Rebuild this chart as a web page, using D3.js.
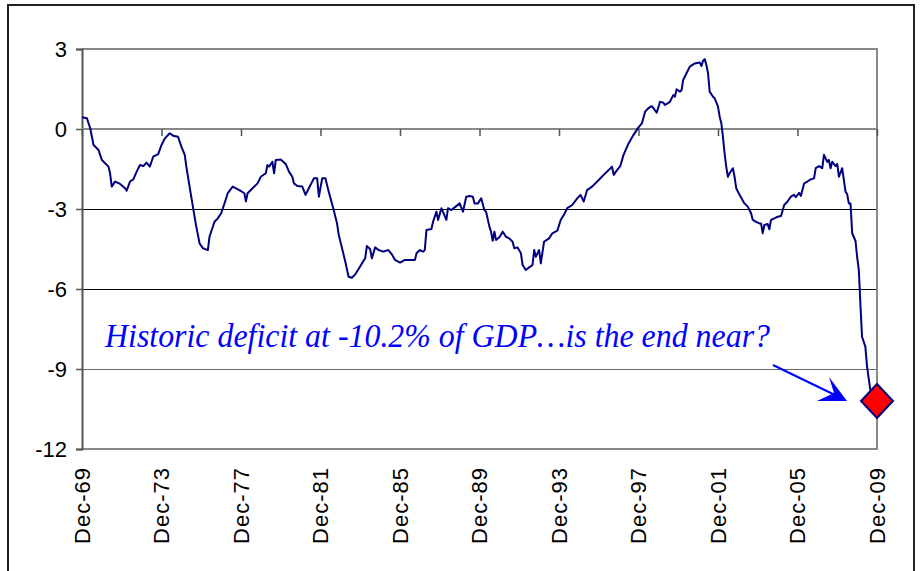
<!DOCTYPE html>
<html><head><meta charset="utf-8">
<script src="https://cdn.jsdelivr.net/npm/d3@7"></script>
<style>html,body{margin:0;padding:0;background:#fff;} svg{display:block;}</style>
</head><body>
<svg id="chart" width="921" height="571"></svg>
<script>
// ---- data (rolling deficit, % of GDP) ----
const months = [
"1969-12","1970-03","1970-05","1970-07","1970-10","1970-12","1971-04","1971-05","1971-06","1971-08","1971-11",
"1972-02","1972-03","1972-05","1972-07","1972-09","1972-11","1973-01","1973-03","1973-05","1973-07","1973-10","1973-12",
"1974-02","1974-05","1974-07","1974-10","1974-12","1975-02","1975-03","1975-05","1975-07","1975-09","1975-11",
"1976-01","1976-04","1976-05","1976-08","1976-10","1976-12","1977-02","1977-04","1977-07","1977-11",
"1978-02","1978-03","1978-04","1978-07","1978-10","1978-12","1979-03","1979-04","1979-05","1979-07","1979-08","1979-09","1979-12",
"1980-03","1980-05","1980-07","1980-08","1980-10","1981-01","1981-03","1981-05","1981-08","1981-10","1981-11",
"1982-01","1982-03","1982-05","1982-08","1982-10","1982-11","1983-01","1983-03","1983-05","1983-07","1983-09","1983-11",
"1984-01","1984-03","1984-04","1984-06","1984-07","1984-09","1984-11","1985-02","1985-05","1985-07","1985-09","1985-12",
"1986-03","1986-06","1986-09","1986-10","1986-12","1987-02","1987-03","1987-04","1987-07","1987-08","1987-10","1987-11",
"1988-01","1988-04","1988-05","1988-07","1988-09","1988-12","1989-02","1989-04","1989-06","1989-08","1989-09","1989-11",
"1990-01","1990-03","1990-04","1990-06","1990-07","1990-08","1990-09","1990-10","1990-12",
"1991-02","1991-04","1991-06","1991-08","1991-09","1991-11","1992-01","1992-02","1992-04","1992-06","1992-08","1992-09","1992-10","1992-12",
"1993-01","1993-03","1993-06","1993-08","1993-11","1994-01","1994-03","1994-05","1994-08","1994-11",
"1995-01","1995-03","1995-05","1995-08","1995-12","1996-03","1996-06","1996-08","1996-09","1996-11",
"1997-01","1997-03","1997-06","1997-09","1997-12","1998-02","1998-04","1998-06","1998-08","1998-09","1998-11",
"1999-01","1999-03","1999-04","1999-07","1999-09","1999-10","1999-11","2000-01","2000-02","2000-03","2000-05","2000-07","2000-10",
"2001-01","2001-02","2001-03","2001-04","2001-05","2001-06","2001-07","2001-09","2001-10","2001-12",
"2002-01","2002-02","2002-03","2002-04","2002-05","2002-06","2002-07","2002-09","2002-10","2002-11",
"2003-01","2003-04","2003-06","2003-08","2003-09","2003-11","2004-01","2004-02","2004-03","2004-04","2004-06","2004-07","2004-08","2004-10","2004-12",
"2005-02","2005-04","2005-06","2005-08","2005-10","2005-11","2006-01","2006-02","2006-04","2006-06","2006-08","2006-10","2006-11",
"2007-01","2007-03","2007-04","2007-06","2007-07","2007-08","2007-09","2007-11","2007-12",
"2008-01","2008-03","2008-04","2008-05","2008-06","2008-07","2008-08","2008-09","2008-11","2008-12",
"2009-01","2009-02","2009-03","2009-05","2009-06","2009-08","2009-12"
];
const deficit = [
0.44,0.40,0.03,-0.60,-0.79,-1.16,-1.41,-1.66,-2.16,-1.97,-2.06,
-2.22,-2.31,-1.97,-1.89,-1.60,-1.35,-1.39,-1.26,-1.41,-1.04,-0.94,-0.60,
-0.35,-0.16,-0.25,-0.29,-0.66,-0.97,-1.39,-2.16,-2.91,-3.66,-4.29,
-4.47,-4.54,-4.04,-3.48,-3.35,-3.16,-2.79,-2.41,-2.16,-2.29,
-2.41,-2.72,-2.41,-2.22,-2.04,-1.79,-1.66,-1.35,-1.41,-1.23,-1.66,-1.16,-1.14,
-1.31,-1.60,-1.79,-2.04,-2.14,-2.16,-2.47,-2.22,-1.85,-1.85,-2.54,
-1.85,-1.85,-2.35,-3.04,-3.54,-3.97,-4.47,-4.97,-5.54,-5.58,-5.45,-5.25,
-5.04,-4.85,-4.39,-4.51,-4.85,-4.44,-4.54,-4.60,-4.54,-4.69,-4.91,-5.01,
-4.91,-4.91,-4.91,-4.66,-4.54,-4.60,-4.54,-3.79,-3.75,-3.48,-3.10,-3.41,
-2.97,-3.41,-2.97,-3.04,-2.94,-2.79,-3.10,-2.54,-2.51,-2.54,-2.79,-2.79,
-2.60,-3.04,-3.10,-3.66,-3.85,-4.19,-3.85,-4.16,-4.06,
-3.85,-4.04,-4.10,-4.23,-4.47,-4.44,-4.66,-5.10,-5.29,-5.19,-5.10,-4.54,-4.79,-4.54,
-5.04,-4.23,-4.10,-3.91,-3.81,-3.41,-3.22,-2.97,-2.85,-2.60,
-2.47,-2.72,-2.29,-2.16,-1.91,-1.72,-1.54,-1.41,-1.72,-1.54,
-1.39,-0.97,-0.54,-0.22,0.06,0.21,0.65,0.78,0.86,0.78,0.61,
1.02,0.99,0.90,1.02,1.27,1.21,1.49,1.40,1.46,1.84,2.09,2.34,2.46,
2.49,2.36,2.56,2.62,2.40,2.09,1.40,1.21,1.15,0.84,
0.46,0.21,-0.29,-0.91,-1.41,-1.79,-1.66,-1.47,-1.79,-2.22,
-2.47,-2.79,-2.91,-3.16,-3.41,-3.48,-3.54,-3.54,-3.91,-3.60,-3.56,-3.76,-3.41,-3.35,-3.29,
-3.26,-2.85,-2.72,-2.54,-2.47,-2.56,-2.39,-2.51,-2.04,-1.97,-1.89,-1.85,-1.47,
-1.39,-1.47,-0.97,-1.23,-1.16,-1.47,-1.23,-1.39,-1.31,
-1.79,-1.47,-1.91,-2.35,-2.44,-2.79,-2.79,-3.91,-4.20,-4.80,
-5.29,-6.66,-7.79,-8.16,-8.91,-9.79,-10.20
];
const xTickLabels = ["Dec-69","Dec-73","Dec-77","Dec-81","Dec-85","Dec-89","Dec-93","Dec-97","Dec-01","Dec-05","Dec-09"];
const yTickValues = [3,0,-3,-6,-9,-12];
const latestMonth = "2009-12";
const latestValue = -10.2;
const annotationText = "Historic deficit at -10.2% of GDP\u2026is the end near?";

// ---- layout ----
const svg = d3.select("#chart");
const m = {left:82, right:877, top:49, bottom:449};
const parseMonth = d3.timeParse("%Y-%m");
const parseTick = d3.timeParse("%b-%y");
const tickDates = xTickLabels.map(parseTick);

const x = d3.scaleTime().domain([tickDates[0], tickDates[tickDates.length-1]]).range([m.left, m.right]);
const y = d3.scaleLinear().domain([-12, 3]).range([m.bottom, m.top]);

// outer frame
svg.append("rect").attr("x",8).attr("y",5).attr("width",906).attr("height",580)
  .attr("fill","#fff").attr("stroke","#222").attr("stroke-width",2);

// gridlines (-3, -6, -9)
const gridCol = {"-3":"#000","-6":"#000","-9":"#666"};
svg.append("g").selectAll("line").data(yTickValues.filter(v => v < 0 && v > -12)).join("line")
  .attr("x1", m.left).attr("x2", m.right)
  .attr("y1", d => Math.round(y(d)) + 0.5).attr("y2", d => Math.round(y(d)) + 0.5)
  .attr("stroke", d => gridCol[d]).attr("stroke-width", 1.2);

// plot border (top/right/bottom)
svg.append("path")
  .attr("d", `M${m.left},${y(3)}H${m.right}V${y(-12)}H${m.left}`)
  .attr("fill","none").attr("stroke","#888").attr("stroke-width",2);

// y axis
const yAxis = d3.axisLeft(y).tickValues(yTickValues).tickSize(6).tickPadding(9)
  .tickFormat(d => String(d));
const gy = svg.append("g").attr("transform",`translate(${m.left},0)`).call(yAxis);
gy.select(".domain").attr("stroke","#555").attr("stroke-width",2);
gy.selectAll(".tick line").attr("stroke","#555").attr("stroke-width",1.5);
gy.selectAll(".tick text").attr("font-family","'Liberation Sans', Arial, sans-serif")
  .attr("font-size",22).attr("fill","#000").attr("dy","0.35em");

// x axis crossing at 0
const xAxis = d3.axisBottom(x).tickValues(tickDates).tickSize(7).tickFormat("");
const gx = svg.append("g").attr("transform",`translate(0,${y(0)})`).call(xAxis);
gx.select(".domain").attr("stroke","#888").attr("stroke-width",2).attr("d",`M${m.left},0H${m.right}`);
gx.selectAll(".tick line").attr("stroke","#555").attr("stroke-width",1.5);

// x labels at bottom, rotated
svg.append("g").selectAll("text").data(xTickLabels).join("text")
  .attr("transform", (d,i) => `translate(${x(tickDates[i]) + 7.5},${m.bottom + 18}) rotate(-90)`)
  .attr("text-anchor","end")
  .attr("font-family","'Liberation Sans', Arial, sans-serif")
  .attr("font-size",22).attr("letter-spacing",1).attr("fill","#000")
  .text(d => d);

// series line
const series = months.map((d,i) => ({date: parseMonth(d), value: deficit[i]}));
const line = d3.line().x(d => x(d.date)).y(d => y(d.value));
svg.append("path").datum(series).attr("d", line)
  .attr("fill","none").attr("stroke","#000080").attr("stroke-width",2).attr("stroke-linejoin","round");

// latest-point diamond
const dx = x(parseMonth(latestMonth)), dy = y(latestValue);
svg.append("path")
  .attr("d", `M${dx},${dy-17}L${dx+16},${dy}L${dx},${dy+17}L${dx-16},${dy}Z`)
  .attr("fill","#ff0000").attr("stroke","#000080").attr("stroke-width",2);

// annotation arrow
const tipX = dx - 30, tipY = dy;
svg.append("line").attr("x1", dx - 104).attr("y1", dy - 36).attr("x2", tipX - 10).attr("y2", tipY - 5)
  .attr("stroke","#0000ff").attr("stroke-width",2);
svg.append("path")
  .attr("d", `M${tipX},${tipY}L${tipX-18},${tipY-24}L${tipX-13},${tipY-8}L${tipX-30},${tipY}Z`)
  .attr("fill","#0000ff");

// annotation text
svg.append("text").attr("x", 105).attr("y", 347)
  .attr("font-family","'Liberation Serif','Times New Roman', serif")
  .attr("font-style","italic").attr("font-size",33).attr("fill","#0000ff")
  .attr("textLength",665).attr("lengthAdjust","spacingAndGlyphs")
  .text(annotationText);
</script>
</body></html>
